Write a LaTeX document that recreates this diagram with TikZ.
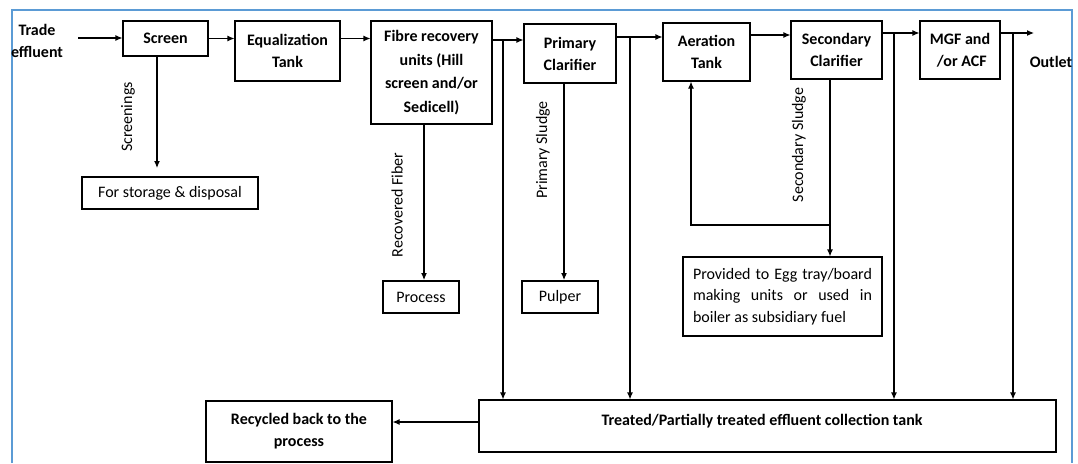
\documentclass[tikz,border=0pt]{standalone}
\usepackage{fontspec}
\setmainfont{Carlito}
\usetikzlibrary{arrows.meta}
\definecolor{framblue}{RGB}{91,155,213}
\tikzset{
  box/.style={draw, line width=1.1pt, inner sep=0pt, align=center, font=\fontsize{16}{22}\selectfont\bfseries},
  rbox/.style={draw, line width=1.1pt, inner sep=0pt, align=center, font=\fontsize{16}{22}\selectfont},
  txt/.style={inner sep=0pt, align=center, font=\fontsize{16}{22}\selectfont\bfseries},
  vlab/.style={inner sep=0pt, rotate=90, font=\fontsize{16}{20}\selectfont},
  conn/.style={line width=1.1pt},
  arr/.style={line width=1.1pt, -{Latex[length=7pt,width=6pt]}}
}
\begin{document}
\begin{tikzpicture}[x=1pt,y=-1pt]
\useasboundingbox (0,0) rectangle (1078,463);
% frame
\draw[framblue, line width=1.6pt] (12,463) -- (12,10) -- (1072,10) -- (1072,463);

% top row
\node[txt] (trade) at (37,41) {Trade\\effluent};
\coordinate (tin) at (78,38);
\node[box, minimum width=85pt, minimum height=35pt] (screen) at (165.5,38.5) {Screen};
\node[box, minimum width=105pt, minimum height=60pt] (eq) at (287.5,51) {Equalization\\Tank};
\node[box, minimum width=121pt, minimum height=103pt, font=\fontsize{16}{23.5}\selectfont\bfseries] (fibre) at (431.5,72.5) {Fibre recovery\\units (Hill\\screen and/or\\Sedicell)};
\node[box, minimum width=92pt, minimum height=59pt] (prim) at (570,53.5) {Primary\\Clarifier};
\node[box, minimum width=87pt, minimum height=58pt] (aer) at (706.5,52) {Aeration\\Tank};
\node[box, minimum width=91pt, minimum height=58pt] (sec) at (836.5,50) {Secondary\\Clarifier};
\node[box, minimum width=80pt, minimum height=58pt] (mgf) at (960,50) {MGF and\\\ /or ACF};
\node[txt] (outlet) at (1051,62) {Outlet};
\coordinate (out) at (1034,33);

% lower boxes
\node[rbox, minimum width=176pt, minimum height=32pt] (storage) at (170,193) {For storage \& disposal};
\node[rbox, minimum width=76pt, minimum height=32pt] (process) at (421,297) {Process};
\node[rbox, minimum width=76pt, minimum height=32pt] (pulper) at (560,297) {Pulper};
\node[rbox, minimum width=199pt, minimum height=79pt, font=\fontsize{16}{21.5}\selectfont] (egg) at (782.5,296.5)
  {\makebox[179pt][s]{Provided to Egg tray/board}\\\makebox[179pt][s]{making units or used in}\\\makebox[179pt][l]{boiler as subsidiary fuel}};
\node[box, minimum width=577pt, minimum height=52pt] (tank) at (767.5,426) {};
\node[txt] (tanklab) at (762,421) {Treated/Partially treated effluent collection tank};
\node[box, minimum width=186pt, minimum height=61pt] (recyc) at (299,431.5) {Recycled back to the\\process};

% main flow
\draw[arr] (tin) -- (tin -| screen.west);
\draw[arr] (screen.east) -- (screen.east -| eq.west);
\draw[arr] (eq.east |- screen.east) -- (fibre.west |- screen.east);
\coordinate (b1) at (503,40);
\draw[arr] (fibre.east |- b1) -- (prim.west |- b1);
\coordinate (b2) at (630,37);
\draw[arr] (prim.east |- b2) -- (aer.west |- b2);
\draw[arr] (aer.east |- 0,35) -- (sec.west |- 0,35);
\coordinate (b3) at (894,33);
\draw[arr] (sec.east |- b3) -- (mgf.west |- b3);
\coordinate (b4) at (1013,33);
\draw[arr] (mgf.east |- b4) -- (out);

% bypass lines to collection tank
\draw[arr] (b1) -- (b1 |- tank.north);
\draw[arr] (b2) -- (b2 |- tank.north);
\draw[arr] (b3) -- (b3 |- tank.north);
\draw[arr] (b4) -- (b4 |- tank.north);
\draw[arr] (tank.west |- 0,422) -- (recyc.east |- 0,422);

% side streams
\coordinate (s1) at (157,168);
\draw[arr] (s1 |- screen.south) -- (s1);
\node[vlab] (lscreen) at (128,117) {Screenings};
\coordinate (s2) at (424,280);
\draw[arr] (s2 |- fibre.south) -- (s2);
\node[vlab] (lfibre) at (397,205) {Recovered Fiber};
\coordinate (s3) at (564,280);
\draw[arr] (s3 |- prim.south) -- (s3);
\node[vlab] (lprim) at (543,150) {Primary Sludge};
\coordinate (s4) at (830,225);
\draw[arr] (s4 |- sec.south) -- (s4 |- egg.north);
\node[vlab] (lsec) at (799,145) {Secondary Sludge};
\coordinate (r1) at (691,225);
\draw[arr] (s4) -- (r1) -- (r1 |- aer.south);
\end{tikzpicture}
\end{document}
